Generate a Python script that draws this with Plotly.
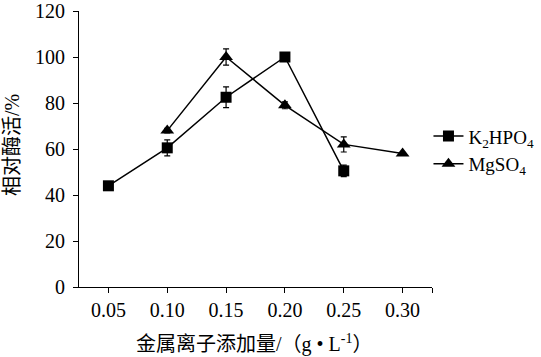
import plotly.graph_objects as go

x_vals = [0.05, 0.10, 0.15, 0.20, 0.25, 0.30]
x_labels = ["0.05", "0.10", "0.15", "0.20", "0.25", "0.30"]

k2hpo4_x = [0.05, 0.10, 0.15, 0.20, 0.25]
k2hpo4_y = [44, 60.5, 82.5, 100, 50.5]
k2hpo4_err = [1.5, 3.5, 4.5, 1.5, 2.5]

mgso4_x = [0.10, 0.15, 0.20, 0.25, 0.30]
mgso4_y = [68, 100, 79, 62, 58]
mgso4_err = [1.0, 3.5, 1.5, 3.3, 0.5]

y_ticks = [0, 20, 40, 60, 80, 100, 120]

FONT = "Liberation Serif, Times New Roman, Noto Sans CJK SC, serif"

fig = go.Figure()
fig.add_trace(go.Scatter(
    x=k2hpo4_x, y=k2hpo4_y, mode="lines+markers",
    name="K<sub>2</sub>HPO<sub>4</sub>",
    line=dict(color="black", width=1.5),
    marker=dict(symbol="square", size=11, color="black"),
    error_y=dict(type="data", array=k2hpo4_err, visible=True,
                 color="black", thickness=1.2, width=3),
))
fig.add_trace(go.Scatter(
    x=mgso4_x, y=mgso4_y, mode="lines+markers",
    name="MgSO<sub>4</sub>",
    line=dict(color="black", width=1.5),
    marker=dict(symbol="triangle-up", size=12, color="black"),
    error_y=dict(type="data", array=mgso4_err, visible=True,
                 color="black", thickness=1.2, width=3),
))

fig.update_layout(
    width=541, height=357,
    margin=dict(l=79, r=109, t=11, b=70, autoexpand=False),
    paper_bgcolor="white", plot_bgcolor="white",
    font=dict(family=FONT, size=20, color="black"),
    showlegend=True,
    legend=dict(x=0.99, xanchor="left", y=0.615, yanchor="top",
                bgcolor="rgba(0,0,0,0)", itemwidth=30,
                font=dict(size=19), tracegroupgap=0),
    xaxis=dict(
        range=[0.025, 0.325], automargin=False,
        tickvals=x_vals + [0.325], ticktext=x_labels + [""],
        ticks="outside", ticklen=5, tickcolor="black", tickwidth=1,
        showline=True, linecolor="black", linewidth=1,
        showgrid=False, zeroline=False,
        tickfont=dict(size=20),
    ),
    yaxis=dict(
        range=[0, 120], tickvals=y_ticks, automargin=False,
        ticks="outside", ticklen=5, tickcolor="black", tickwidth=1,
        showline=True, linecolor="black", linewidth=1,
        showgrid=False, zeroline=False,
        tickfont=dict(size=20), ticklabelstandoff=4,
    ),
    annotations=[
        dict(text="相对酶活/%", textangle=-90, xref="paper", yref="paper",
             x=-0.19, y=0.514, xanchor="center", yanchor="middle",
             showarrow=False, font=dict(size=20)),
        dict(text="金属离子添加量/（g • L<sup>-1</sup>）", xref="paper", yref="paper",
             x=0.497, y=-0.203, xanchor="center", yanchor="middle",
             showarrow=False, font=dict(size=20)),
    ],
)

fig.write_html("out.html", config={"displayModeBar": False},
               post_script="document.body.style.margin='0';")
